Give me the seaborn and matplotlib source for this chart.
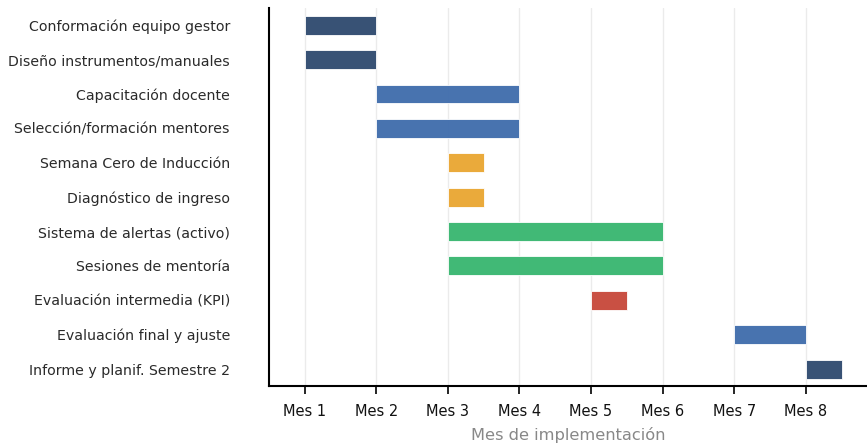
import numpy as np
import pandas as pd
import matplotlib
matplotlib.use("Agg")
import matplotlib.pyplot as plt
import seaborn as sns

# Datos del cronograma
tareas = ['Conformación equipo gestor', 'Diseño instrumentos/manuales',
          'Capacitación docente', 'Selección/formación mentores',
          'Semana Cero de Inducción', 'Diagnóstico de ingreso',
          'Sistema de alertas (activo)', 'Sesiones de mentoría',
          'Evaluación intermedia (KPI)', 'Evaluación final y ajuste',
          'Informe y planif. Semestre 2']
inicio = [1, 1, 2, 2, 3, 3, 3, 3, 5, 7, 8]
fin = [2, 2, 4, 4, 3.5, 3.5, 6, 6, 5.5, 8, 8.5]
fase = ['gestion', 'gestion', 'formacion', 'formacion', 'induccion', 'induccion',
        'seguimiento', 'seguimiento', 'evaluacion', 'formacion', 'gestion']
meses = ['Mes 1', 'Mes 2', 'Mes 3', 'Mes 4', 'Mes 5', 'Mes 6', 'Mes 7', 'Mes 8']

colores = {'gestion': '#344e72', 'formacion': '#4470ae', 'induccion': '#eaa837',
           'seguimiento': '#3db873', 'evaluacion': '#c84c3f'}

df = pd.DataFrame({'tarea': tareas, 'inicio': inicio, 'fin': fin, 'fase': fase})
df['duracion'] = df['fin'] - df['inicio']

sns.set_theme(style='white')
plt.rcParams['font.family'] = ['DejaVu Sans']

fig, ax = plt.subplots(figsize=(8.67, 4.44), dpi=100)
ypos = np.arange(len(df))
ax.barh(ypos, df['duracion'], left=df['inicio'], height=0.55,
        color=[colores[f] for f in df['fase']], edgecolor='white', linewidth=0.6,
        alpha=0.98, zorder=3)

ax.set_yticks(ypos)
ax.set_yticklabels(df['tarea'], fontsize=10.2, color='#2a2a2a')
ax.set_ylim(len(df) - 0.5, -0.5)
ax.set_xticks(range(1, len(meses) + 1))
ax.set_xticklabels(meses, fontsize=10.5, color='#111111')
ax.set_xlim(0.5, 8.855)
ax.xaxis.grid(True, color='#ebebeb', linewidth=1, zorder=0)
ax.yaxis.grid(False)
ax.tick_params(axis='x', bottom=True, length=5.5, width=1.2, color='black', pad=7)
ax.tick_params(axis='y', left=False, pad=22)
ax.set_xlabel('Mes de implementación', fontsize=11.7, color='#888888', labelpad=6)
sns.despine(ax=ax)
for s in ['left', 'bottom']:
    ax.spines[s].set_color('black')
    ax.spines[s].set_linewidth(1.5)

fig.subplots_adjust(left=0.31, right=1.0, top=0.982, bottom=0.13)
fig.savefig('out.png', dpi=100)
